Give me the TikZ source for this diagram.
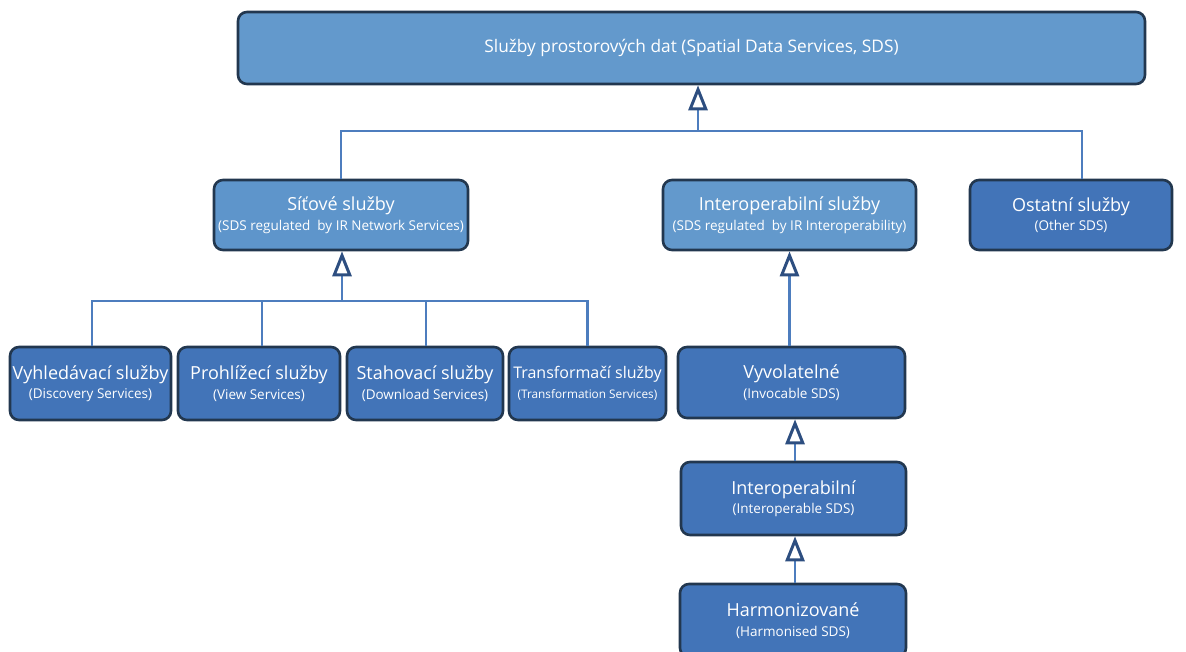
\documentclass[tikz,border=0pt]{standalone}
\usepackage{fontspec}
\setmainfont{Open Sans}
\usetikzlibrary{arrows.meta}
\definecolor{lightfill}{HTML}{6399CC}
\definecolor{midfill}{HTML}{5E95CB}
\definecolor{darkfill}{HTML}{4274B8}
\definecolor{boxborder}{HTML}{22374F}
\definecolor{connblue}{HTML}{4D7DBE}
\definecolor{tipblue}{HTML}{2D4E80}
\tikzset{
  box/.style={draw=boxborder, line width=2.6pt, rounded corners=9pt, text=white, align=center, inner sep=0pt, font=\fontsize{13.5}{19.5}\selectfont},
  conn/.style={draw=connblue, line width=2.2pt},
  gen/.style={conn, -{Triangle[open, length=25pt, width=19pt, line width=3pt, color=tipblue]}},
}
\newcommand{\ttl}[1]{{\fontsize{18}{20}\selectfont #1}}
\begin{document}
\begin{tikzpicture}[x=1pt,y=-1pt]
\useasboundingbox (0,0) rectangle (1186,651);
% top
\node[box, fill=lightfill, minimum width=907pt, minimum height=72pt] (top) at (691.5,48) {{\fontsize{17.3}{20}\selectfont Služby prostorových dat (Spatial Data Services, SDS)}};
% level 2
\node[box, fill=midfill, minimum width=254pt, minimum height=70pt] (sit) at (341,215) {\ttl{Síťové služby}\\(SDS regulated\ \ by IR Network Services)};
\node[box, fill=lightfill, minimum width=253pt, minimum height=70pt] (intsl) at (789.5,215) {\ttl{Interoperabilní služby}\\(SDS regulated\ \ by IR Interoperability)};
\node[box, fill=darkfill, minimum width=202pt, minimum height=70pt] (ost) at (1071,215) {\ttl{Ostatní služby}\\(Other SDS)};
% level 3
\node[box, fill=darkfill, minimum width=161pt, minimum height=73pt] (vyh) at (90.5,383.5) {\ttl{Vyhledávací služby}\\(Discovery Services)};
\node[box, fill=darkfill, minimum width=162pt, minimum height=73pt] (pro) at (259,383.5) {\ttl{Prohlížecí služby}\\(View Services)};
\node[box, fill=darkfill, minimum width=156pt, minimum height=73pt] (sta) at (425,383.5) {\ttl{Stahovací služby}\\(Download Services)};
\node[box, fill=darkfill, minimum width=157pt, minimum height=73pt] (tra) at (587.5,383.5) {{\fontsize{16}{18}\selectfont Transformačí služby}\\{\fontsize{11.8}{14}\selectfont (Transformation Services)}};
% chain
\node[box, fill=darkfill, minimum width=227pt, minimum height=71pt] (vyv) at (791.5,382.5) {\ttl{Vyvolatelné}\\(Invocable SDS)};
\node[box, fill=darkfill, minimum width=225pt, minimum height=73pt] (iop) at (793.5,498.5) {\ttl{Interoperabilní}\\(Interoperable SDS)};
\node[box, fill=darkfill, minimum width=226pt, minimum height=73pt] (har) at (793,620.5) {\ttl{Harmonizované}\\(Harmonised SDS)};
% tree 1
\coordinate (j1) at (698,131);
\draw[conn] (sit.north) |- (j1);
\draw[conn] ([xshift=11pt]ost.north) |- (j1);
\draw[gen] (j1) -- (j1 |- top.south);
% tree 2
\coordinate (j2) at (342,301);
\draw[conn] ([xshift=1.5pt]vyh.north) |- (j2);
\draw[conn] ([xshift=3pt]pro.north) |- (j2);
\draw[conn] ([xshift=1pt]sta.north) |- ([xshift=1pt]sta.north |- j2);
\draw[conn] (tra.north) |- (j2);
\draw[gen] (j2) -- (j2 |- sit.south);
% chain arrows
\draw[gen] (vyv.north -| intsl.south) -- (intsl.south);
\draw[gen] (iop.north -| 795,0) -- (795,0 |- vyv.south);
\draw[gen] (har.north -| 795,0) -- (795,0 |- iop.south);
\end{tikzpicture}
\end{document}
